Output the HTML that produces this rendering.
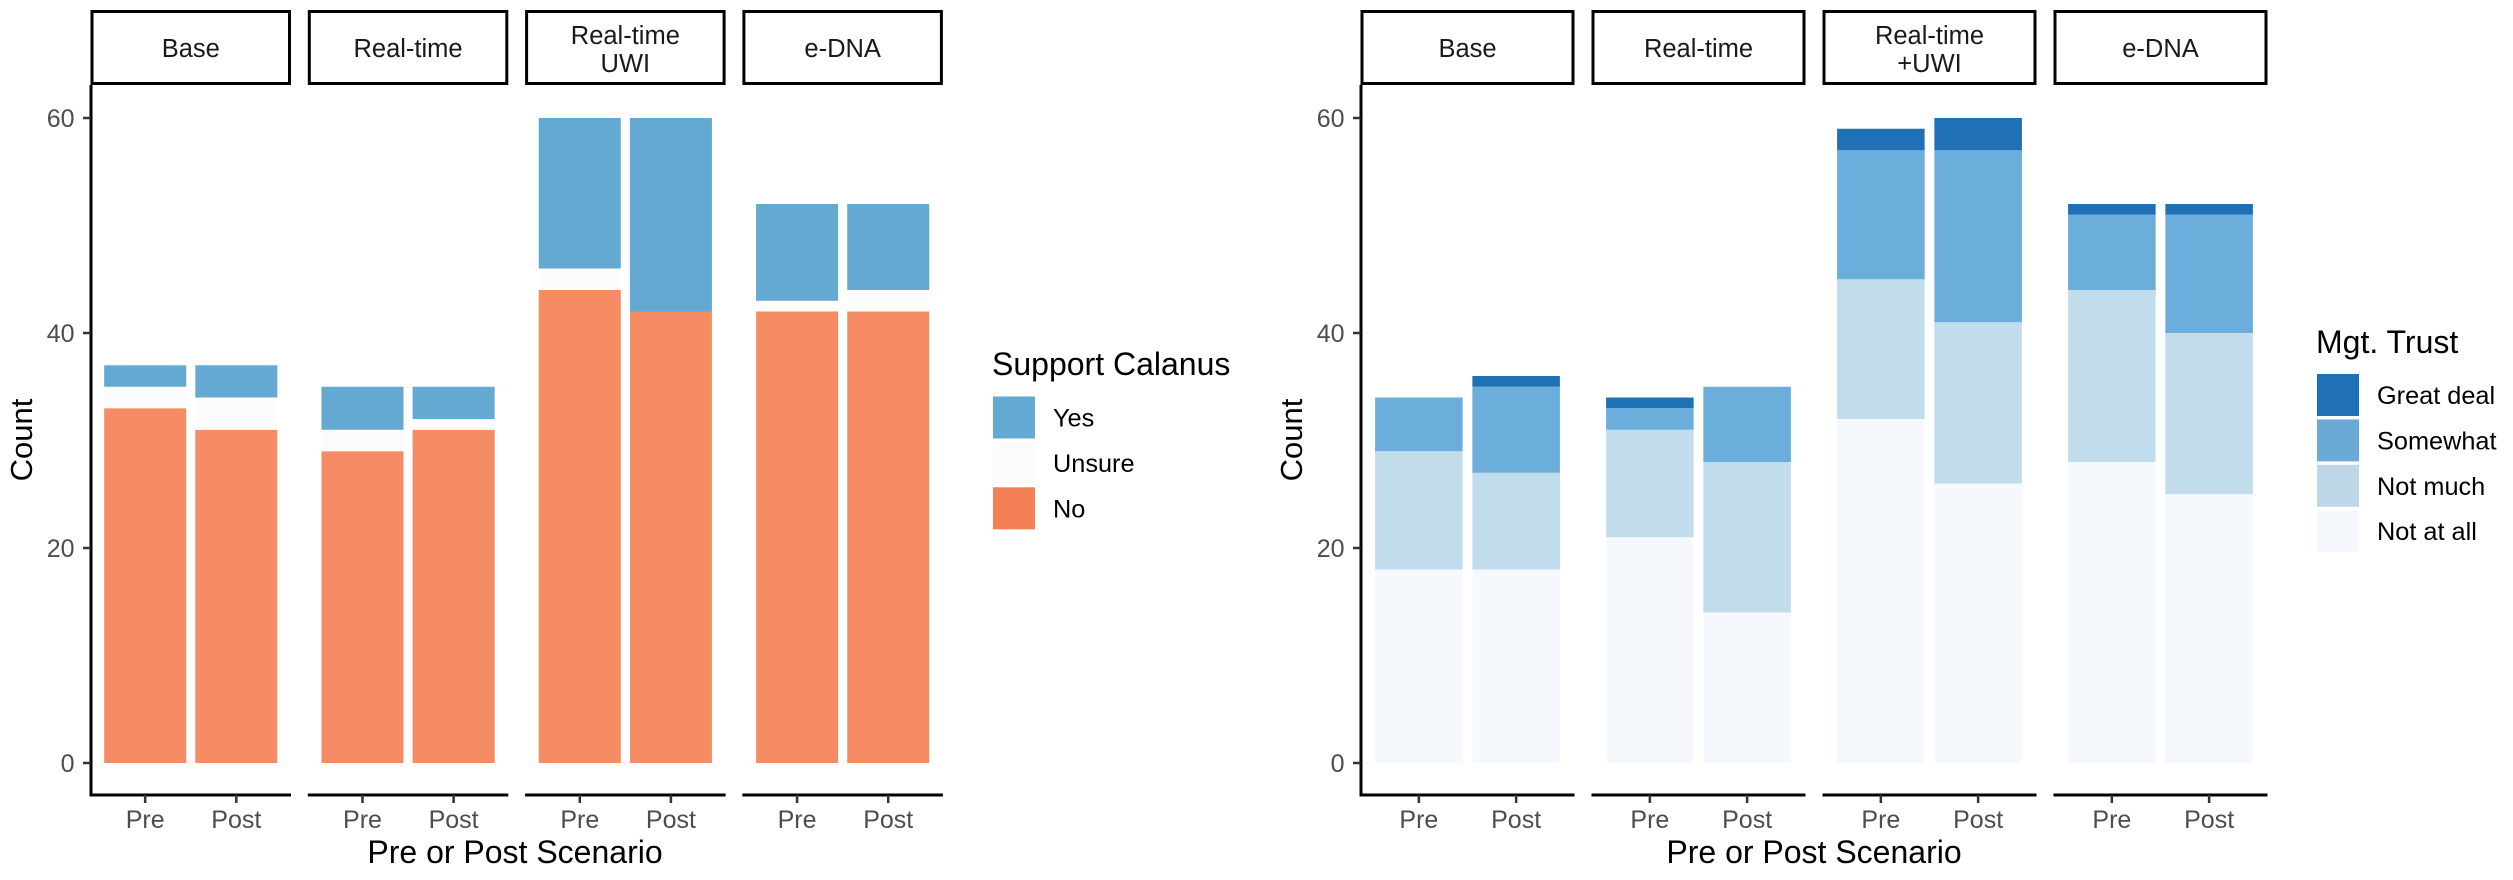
<!DOCTYPE html>
<html lang="en">
<head>
<meta charset="utf-8">
<title>Support Calanus and Management Trust, Pre and Post Scenario</title>
<style>
html,body{margin:0;padding:0;background:#fff;}
svg{display:block;font-family:"Liberation Sans",Arial,sans-serif;}
</style>
</head>
<body>
<svg id="figure" xmlns="http://www.w3.org/2000/svg" width="2513" height="880" viewBox="0 0 2513 880">
  <rect x="0" y="0" width="2513" height="880" fill="#ffffff"/>
  <g id="chart-left"></g>
  <g id="chart-right"></g>
</svg>
<script>
// Shared categories
const conditions = ["Pre", "Post"];
const yTicks = [0, 20, 40, 60];

// Left chart: Support Calanus
const leftFacets = [["Base"], ["Real-time"], ["Real-time", "UWI"], ["e-DNA"]];
const leftLegendLabels = ["Yes", "Unsure", "No"];
const supportNo     = [33, 31, 29, 31, 44, 42, 42, 42];
const supportUnsure = [2, 3, 2, 1, 2, 0, 1, 2];
const supportYes    = [2, 3, 4, 3, 14, 18, 9, 8];

// Right chart: Mgt. Trust
const rightFacets = [["Base"], ["Real-time"], ["Real-time", "+UWI"], ["e-DNA"]];
const rightLegendLabels = ["Great deal", "Somewhat", "Not much", "Not at all"];
const trustNotAtAll  = [18, 18, 21, 14, 32, 26, 28, 25];
const trustNotMuch   = [11, 9, 10, 14, 13, 15, 16, 15];
const trustSomewhat  = [5, 8, 2, 7, 12, 16, 7, 11];
const trustGreatDeal = [0, 1, 1, 0, 2, 3, 1, 1];

const NS = "http://www.w3.org/2000/svg";
const PLOT_TOP = 85, PLOT_BOTTOM = 795, Y_ZERO = 763, PX_PER_COUNT = 10.75;
const STRIP_TOP = 10;

function yScale(v) { return Y_ZERO - v * PX_PER_COUNT; }

function make(tag, attrs, parent, text) {
  const node = document.createElementNS(NS, tag);
  for (const k in attrs) node.setAttribute(k, attrs[k]);
  if (text !== undefined) node.textContent = text;
  parent.appendChild(node);
  return node;
}

function drawChart(root, cfg) {
  const unit = cfg.panelWidth / 2.2;
  const xScale = function (panel, cond) {
    return cfg.x0 + panel * cfg.stride + (0.6 + cond) * unit;
  };

  // y axis
  const yAxis = make("line", {x1: cfg.x0 + 0.5, x2: cfg.x0 + 0.5, y1: PLOT_TOP, y2: PLOT_BOTTOM + 1.5, stroke: "#000", "stroke-width": 3}, root);
  
  

  yTicks.forEach(function (t) {
    const tick = make("line", {x1: cfg.x0 - 7.5, x2: cfg.x0, y1: yScale(t), y2: yScale(t), stroke: "#333", "stroke-width": 2.5}, root);
    
    
    const label = make("text", {x: cfg.x0 - 16, y: yScale(t) + 9, "text-anchor": "end", "font-size": 25, fill: "#4d4d4d"}, root, String(t));
    
    
  });

  const yTitle = make("text", {transform: "translate(" + cfg.yTitleX + " 440) rotate(-90)", "text-anchor": "middle", "font-size": 31, fill: "#000"}, root, "Count");
  
  

  const xTitle = make("text", {x: cfg.xTitleX, y: 863, "text-anchor": "middle", "font-size": 32, fill: "#000"}, root, "Pre or Post Scenario");
  
  

  cfg.facets.forEach(function (lines, p) {
    const px = cfg.x0 + p * cfg.stride;

    // facet strip
    const strip = make("rect", {x: px + 1.5, y: STRIP_TOP + 1.5, width: cfg.panelWidth - 3, height: PLOT_TOP - STRIP_TOP - 3, fill: "#fff", stroke: "#000", "stroke-width": 3}, root);
    
    
    lines.forEach(function (line, i) {
      const cy = lines.length === 1 ? 57 : (i === 0 ? 44 : 72);
      const stripText = make("text", {x: px + cfg.panelWidth / 2, y: cy, "text-anchor": "middle", "font-size": 25.5, fill: "#1a1a1a"}, root, line);
      
      
    });

    // bottom axis for the panel
    const xAxis = make("line", {x1: px, x2: px + cfg.panelWidth, y1: PLOT_BOTTOM, y2: PLOT_BOTTOM, stroke: "#000", "stroke-width": 3}, root);
    
    

    conditions.forEach(function (name, c) {
      const cx = xScale(p, c);
      const idx = p * conditions.length + c;

      // stacked bar segments
      let base = 0;
      cfg.series.forEach(function (s) {
        const v = s.values[idx];
        if (v > 0) {
          const bar = make("rect", {x: cx - 0.45 * unit, y: yScale(base + v), width: 0.9 * unit, height: v * PX_PER_COUNT, fill: s.color}, root);
          
          
        }
        base += v;
      });

      const xTick = make("line", {x1: cx, x2: cx, y1: PLOT_BOTTOM, y2: 803, stroke: "#333", "stroke-width": 2.5}, root);
      
      
      const xLabel = make("text", {x: cx, y: 828, "text-anchor": "middle", "font-size": 25, fill: "#4d4d4d"}, root, name);
      
      
    });
  });

  // legend
  const legendTitle = make("text", {x: cfg.legendX, y: cfg.legendTitleY, "font-size": 32, fill: "#000"}, root, cfg.legendTitle);
  
  
  cfg.legendLabels.forEach(function (label, i) {
    const ky = cfg.legendY + i * 45.4;
    const key = make("rect", {x: cfg.legendX + 1, y: ky, width: 42, height: 42, fill: cfg.legendColors[i]}, root);
    
    
    const text = make("text", {x: cfg.legendX + 61, y: ky + 30, "font-size": 25.3, fill: "#000"}, root, label);
    
    
  });
}

drawChart(document.getElementById("chart-left"), {
  x0: 90.5, stride: 217.3, panelWidth: 200.5,
  yTitleX: 32, xTitleX: 515,
  facets: leftFacets,
  series: [
    {key: "no", values: supportNo, color: "#f58c63"},
    {key: "unsure", values: supportUnsure, color: "#fcfcfc"},
    {key: "yes", values: supportYes, color: "#64a9d2"}
  ],
  legendX: 992, legendTitleY: 375, legendY: 396.5, legendTitle: "Support Calanus",
  legendLabels: leftLegendLabels,
  legendColors: ["#64a9d2", "#fcfcfc", "#f58055"]
});

drawChart(document.getElementById("chart-right"), {
  x0: 1360.5, stride: 231, panelWidth: 214,
  yTitleX: 1302, xTitleX: 1814,
  facets: rightFacets,
  series: [
    {key: "not-at-all", values: trustNotAtAll, color: "#f5f9fe"},
    {key: "not-much", values: trustNotMuch, color: "#c1dcea"},
    {key: "somewhat", values: trustSomewhat, color: "#6baedb"},
    {key: "great-deal", values: trustGreatDeal, color: "#2070b6"}
  ],
  legendX: 2316, legendTitleY: 353, legendY: 374, legendTitle: "Mgt. Trust",
  legendLabels: rightLegendLabels,
  legendColors: ["#2070b6", "#6baad6", "#bdd7e7", "#f5f9fe"]
});
</script>
</body>
</html>
